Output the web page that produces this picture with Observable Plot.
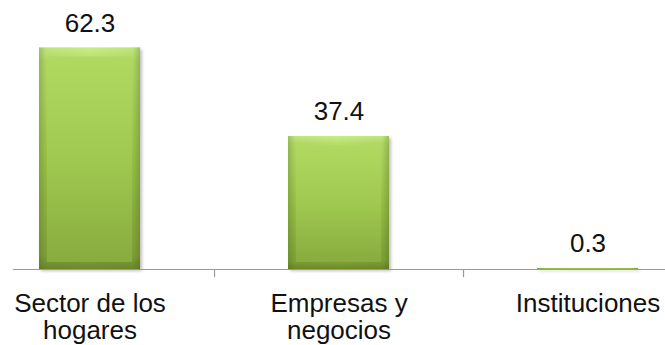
<!DOCTYPE html>
<html><head><meta charset="utf-8">
<script src="https://cdn.jsdelivr.net/npm/d3@7"></script>
<script src="https://cdn.jsdelivr.net/npm/@observablehq/plot@0.6"></script>
<style>body{margin:0;background:#fff}#chart{width:665px;height:345px;overflow:hidden}</style>
</head><body><div id="chart"></div>
<script>
const categories = ["Sector de los\nhogares", "Empresas y\nnegocios", "Instituciones"];
const values = [62.3, 37.4, 0.3];
const valueLabels = ["62.3", "37.4", "0.3"];
const data = categories.map((c, i) => ({category: c, value: values[i], label: valueLabels[i]}));

const W = 665, H = 345, mL = 13, mR = 0, pIn = 0.594, pOut = 0.106;
const step = (W - mL - mR) / (categories.length - pIn + 2 * pOut);

function defsMark() {
  const d = d3.create("svg:defs");
  const lg = (id, x2, y2, stops) => {
    const g = d.append("linearGradient").attr("id", id).attr("x1", 0).attr("y1", 0).attr("x2", x2).attr("y2", y2);
    stops.forEach(([o, c, op]) => g.append("stop").attr("offset", o).attr("stop-color", c).attr("stop-opacity", op == null ? 1 : op));
  };
  lg("edge", 0, 1, [[0, "#c8ee86"], [0.06, "#b6de6a"], [0.5, "#9cc64b"], [0.94, "#82a339"], [1, "#6b8a2b"]]);
  lg("side", 1, 0, [[0, "#3d5510", 0.28], [0.07, "#3d5510", 0.06], [0.5, "#3d5510", 0], [0.93, "#3d5510", 0.06], [1, "#3d5510", 0.3]]);
  lg("face", 0, 1, [[0, "#b0d960"], [0.5, "#9fc950"], [1, "#89ab3f"]]);
  const f = d.append("filter").attr("id", "shadow").attr("x", "-10%").attr("y", "-10%").attr("width", "130%").attr("height", "130%");
  f.append("feDropShadow").attr("dx", 2).attr("dy", 2).attr("stdDeviation", 1.5).attr("flood-color", "#000").attr("flood-opacity", 0.25);
  return d.node();
}

const chart = Plot.plot({
  width: W, height: H,
  marginLeft: mL, marginRight: mR, marginTop: 20, marginBottom: 76,
  style: {fontFamily: "'Liberation Sans', Arial, sans-serif", color: "#000", background: "#fff", overflow: "visible"},
  x: {domain: categories, paddingInner: pIn, paddingOuter: pOut, align: 0.5, axis: null},
  y: {domain: [0, 70], axis: null},
  marks: [
    defsMark,
    Plot.barY(data, {x: "category", y: "value", fill: "url(#edge)"}),
    Plot.barY(data, {x: "category", y: "value", fill: "url(#side)"}),
    Plot.barY(data, {x: "category", y: "value", filter: d => d.value > 5, insetLeft: 8, insetRight: 8, insetTop: 9, insetBottom: 7, fill: "url(#face)"}),
    Plot.ruleY([0], {stroke: "#9a9a9a", strokeWidth: 1.2}),
    Plot.ruleX(categories.slice(0, -1), {x: d => d, y1: 0, y2: -2.3, dx: step / 2, stroke: "#9a9a9a", strokeWidth: 1.2}),
    Plot.text(data, {x: "category", y: "value", text: "label", dy: -16, lineAnchor: "bottom", fontSize: 26, fill: "#111"}),
    Plot.axisX({tickSize: 0, tickPadding: 24, fontSize: 26, lineHeight: 1.02, lineAnchor: "top", fill: "#111", label: null})
  ]
});
d3.select(chart).select('g[aria-label="bar"]').attr("filter", "url(#shadow)");
document.getElementById("chart").append(chart);
</script>
</body></html>
